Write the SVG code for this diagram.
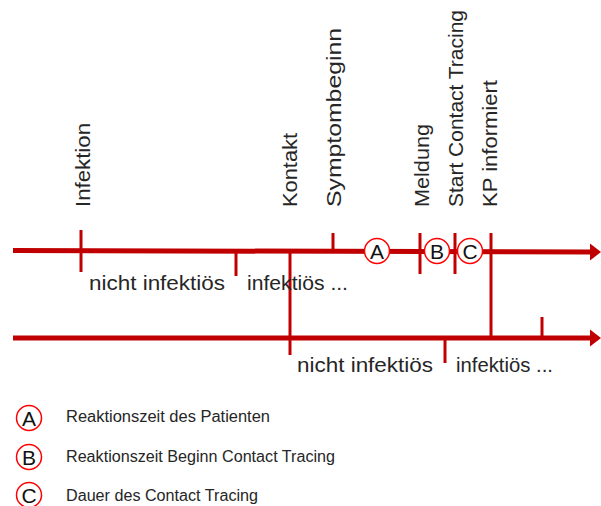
<svg xmlns="http://www.w3.org/2000/svg" width="601" height="506" viewBox="0 0 601 506">
<style>
.axis{stroke:#C00000;stroke-width:5;fill:none}
.tick{stroke:#C00000;stroke-width:3;fill:none}
.head{fill:#C00000}
.lbl{font-family:"Liberation Sans",Arial,sans-serif;font-size:21px;fill:#262626}
.leg{font-family:"Liberation Sans",Arial,sans-serif;font-size:16px;fill:#262626}
.mk{fill:#fff;stroke:#FF0000;stroke-width:1.5}
.mkt{font-family:"Liberation Sans",Arial,sans-serif;font-size:21px;fill:#111;text-anchor:middle}
</style>
<rect width="601" height="506" fill="#fff"/>
<g id="connectors">
<line class="axis" x1="13" y1="250.5" x2="592" y2="252"/>
<polygon class="head" points="590,243.5 601,252 590,260.5"/>
<line class="axis" x1="13" y1="338" x2="592" y2="338"/>
<polygon class="head" points="590,329.5 601,338 590,346.5"/>
<line class="tick" x1="81" y1="230" x2="81" y2="272"/>
<line class="tick" x1="236" y1="251" x2="236" y2="276"/>
<line class="tick" x1="290" y1="251" x2="290" y2="355"/>
<line class="tick" x1="333" y1="233" x2="333" y2="251"/>
<line class="tick" x1="420" y1="233" x2="420" y2="274"/>
<line class="tick" x1="455" y1="233" x2="455" y2="274"/>
<line class="tick" x1="491" y1="233" x2="491" y2="338"/>
<line class="tick" x1="445" y1="338" x2="445" y2="363"/>
<line class="tick" x1="542" y1="317" x2="542" y2="338"/>
</g>
<g id="infektion"><text class="lbl" transform="translate(90,207) rotate(-90)" textLength="84" lengthAdjust="spacingAndGlyphs">Infektion</text></g>
<g id="kontakt"><text class="lbl" transform="translate(297,207) rotate(-90)" textLength="74" lengthAdjust="spacingAndGlyphs">Kontakt</text></g>
<g id="symptombeginn"><text class="lbl" transform="translate(341,207) rotate(-90)" textLength="179" lengthAdjust="spacingAndGlyphs">Symptombeginn</text></g>
<g id="meldung"><text class="lbl" transform="translate(429,207) rotate(-90)" textLength="83" lengthAdjust="spacingAndGlyphs">Meldung</text></g>
<g id="start-ct"><text class="lbl" transform="translate(463,207) rotate(-90)" textLength="197" lengthAdjust="spacingAndGlyphs">Start Contact Tracing</text></g>
<g id="kp-informiert"><text class="lbl" transform="translate(497,207) rotate(-90)" textLength="127" lengthAdjust="spacingAndGlyphs">KP informiert</text></g>
<g id="top-labels">
<text class="lbl" x="89" y="290" textLength="136" lengthAdjust="spacingAndGlyphs">nicht infektiös</text>
<text class="lbl" x="247" y="290" textLength="101" lengthAdjust="spacingAndGlyphs">infektiös ...</text>
</g>
<g id="bottom-labels">
<text class="lbl" x="297" y="372" textLength="136" lengthAdjust="spacingAndGlyphs">nicht infektiös</text>
<text class="lbl" x="456" y="372" textLength="97" lengthAdjust="spacingAndGlyphs">infektiös ...</text>
</g>
<g id="marker-a"><circle class="mk" cx="377" cy="251" r="12.5"/><text class="mkt" x="377" y="258.5">A</text></g>
<g id="marker-b"><circle class="mk" cx="437" cy="251" r="12.5"/><text class="mkt" x="437" y="258.5">B</text></g>
<g id="marker-c"><circle class="mk" cx="470" cy="251" r="12.5"/><text class="mkt" x="470" y="258.5">C</text></g>
<g id="legend-a"><circle class="mk" cx="29" cy="418" r="12.5"/><text class="mkt" x="29" y="425.5">A</text>
<text class="leg" x="66" y="422" textLength="204" lengthAdjust="spacingAndGlyphs">Reaktionszeit des Patienten</text></g>
<g id="legend-b"><circle class="mk" cx="29" cy="457" r="12.5"/><text class="mkt" x="29" y="464.5">B</text>
<text class="leg" x="66" y="462" textLength="269" lengthAdjust="spacingAndGlyphs">Reaktionszeit Beginn Contact Tracing</text></g>
<g id="legend-c"><circle class="mk" cx="29" cy="495" r="12.5"/><text class="mkt" x="29" y="502.5">C</text>
<text class="leg" x="66" y="501" textLength="192" lengthAdjust="spacingAndGlyphs">Dauer des Contact Tracing</text></g>
</svg>
